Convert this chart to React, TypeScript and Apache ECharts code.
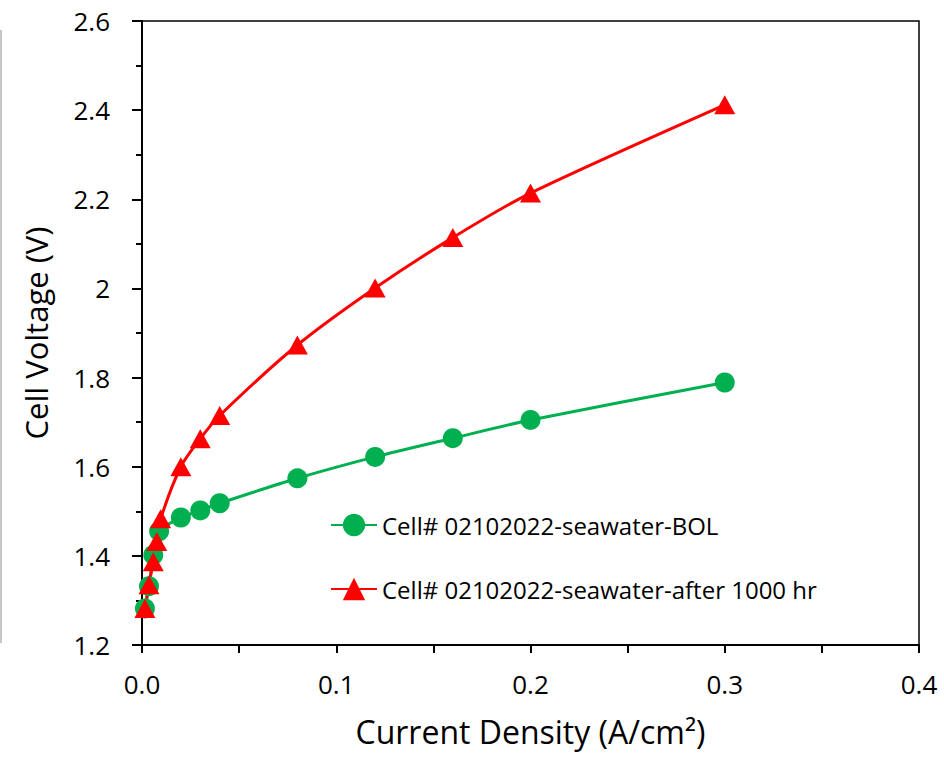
import React, { useEffect, useRef } from "react";
import * as echarts from "echarts";

const bolCurrent = [0.0015, 0.0036, 0.0058, 0.0088, 0.02, 0.03, 0.04, 0.08, 0.12, 0.16, 0.2, 0.3];
const bolVoltage = [1.282, 1.332, 1.402, 1.455, 1.486, 1.502, 1.518, 1.574, 1.622, 1.664, 1.705, 1.789];
const agedCurrent = [0.0015, 0.0036, 0.0058, 0.0076, 0.0096, 0.02, 0.03, 0.04, 0.08, 0.12, 0.16, 0.2, 0.3];
const agedVoltage = [1.282, 1.335, 1.387, 1.432, 1.483, 1.6, 1.663, 1.715, 1.873, 2.001, 2.114, 2.214, 2.412];
const seriesNames = ["Cell# 02102022-seawater-BOL", "Cell# 02102022-seawater-after 1000 hr"];
const xAxisTitle = "Current Density (A/cm²)";
const yAxisTitle = "Cell Voltage (V)";

const FONT = "'Open Sans', Lato, sans-serif";

export default function App() {
  const ref = useRef<HTMLDivElement>(null);
  useEffect(() => {
    if (!ref.current) return;
    const chart = echarts.init(ref.current, null, { renderer: "svg" });
    const pair = (xs: number[], ys: number[]) => xs.map((x, i) => [x, ys[i]]);
    chart.setOption({
      animation: false,
      backgroundColor: "#fff",
      textStyle: { fontFamily: FONT },
      grid: { left: 142, top: 21, width: 777, height: 624, show: true, borderColor: "#000", borderWidth: 1.5 },
      xAxis: {
        type: "value",
        min: 0,
        max: 0.4,
        interval: 0.1,
        name: xAxisTitle,
        nameLocation: "middle",
        nameGap: 70,
        nameTextStyle: { fontSize: 32, color: "#000", fontFamily: FONT },
        axisLine: { show: true, onZero: false, lineStyle: { color: "#000", width: 2 } },
        axisTick: { show: true, inside: false, length: 8, lineStyle: { color: "#000", width: 2 } },
        minorTick: { show: true, splitNumber: 2, length: 8, lineStyle: { color: "#000", width: 2 } },
        splitLine: { show: false },
        axisLabel: { fontSize: 26, color: "#000", margin: 26, formatter: (v: number) => v.toFixed(1), fontFamily: FONT },
      },
      yAxis: {
        type: "value",
        min: 1.2,
        max: 2.6,
        interval: 0.2,
        name: yAxisTitle,
        nameLocation: "middle",
        nameGap: 91,
        nameRotate: 90,
        nameTextStyle: { fontSize: 31, color: "#000", fontFamily: FONT },
        axisLine: { show: true, onZero: false, lineStyle: { color: "#000", width: 2 } },
        axisTick: { show: true, inside: false, length: 10, lineStyle: { color: "#000", width: 2 } },
        minorTick: { show: true, splitNumber: 2, length: 6, lineStyle: { color: "#000", width: 2 } },
        splitLine: { show: false },
        axisLabel: { fontSize: 26, color: "#000", margin: 32, fontFamily: FONT },
      },
      legend: {
        orient: "vertical",
        left: 330,
        top: 513,
        padding: 0,
        itemWidth: 46,
        itemHeight: 28,
        itemGap: 40,
        textStyle: { fontSize: 24, color: "#000", fontFamily: FONT },
        data: seriesNames,
      },
      graphic: [
        { type: "line", shape: { x1: 1, y1: 30, x2: 1, y2: 643 }, style: { stroke: "#b4b4b4", lineWidth: 1.5 } },
      ],
      series: [
        {
          name: seriesNames[0],
          type: "line",
          data: pair(bolCurrent, bolVoltage),
          smooth: 0.25,
          symbol: "circle",
          symbolSize: 20,
          lineStyle: { color: "#00B050", width: 3 },
          itemStyle: { color: "#00B050" },
        },
        {
          name: seriesNames[1],
          type: "line",
          data: pair(agedCurrent, agedVoltage),
          smooth: 0.25,
          symbol: "triangle",
          symbolSize: [21, 19],
          lineStyle: { color: "#FF0000", width: 3 },
          itemStyle: { color: "#FF0000" },
        },
      ],
    });
    return () => chart.dispose();
  }, []);
  return <div ref={ref} style={{ position: "fixed", left: 0, top: 0, width: 944, height: 757 }} />;
}
